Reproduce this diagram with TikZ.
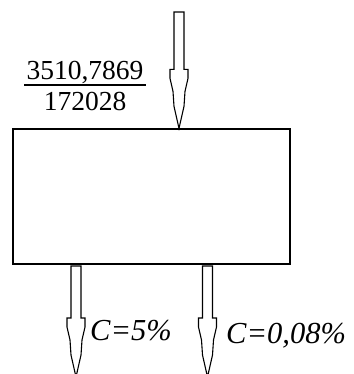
\documentclass[tikz,border=0pt]{standalone}
\usepackage{fontspec}
\setmainfont{Liberation Serif}
\usetikzlibrary{calc}
\tikzset{y=-1pt}
\tikzset{x=1pt}
\tikzstyle{unit}=[draw, line width=1.3pt, minimum width=277pt, minimum height=135pt, inner sep=0pt]
\tikzset{flow/.style={line width=1.1pt, line join=miter}}
\tikzset{label/.style={anchor=base west, inner sep=0pt, font=\fontsize{27.5}{30}\selectfont}}
\tikzset{conc/.style={label, font=\fontsize{30.5}{33}\selectfont\itshape}}
\newcommand{\flowarrow}[2]{
  \draw[flow] ($(#1)+(-5,0)$) -- ($(#2)+(-5,-59)$) -- ++(-4,0) -- ++(0,9)
    -- ($(#2)+(-6,-37)$) -- ($(#2)+(-5,-22)$) -- (#2)
    -- ($(#2)+(5,-22)$) -- ($(#2)+(6,-37)$) -- ($(#2)+(9,-50)$)
    -- ++(0,-9) -- ++(-4,0) -- ($(#1)+(5,0)$) -- cycle;
}

\begin{document}
\begin{tikzpicture}
  \useasboundingbox (0,0) rectangle (353,374);
  \draw (151.5,196.5) node[unit] (box) {};

  %% Streams
  \coordinate (in) at (179,12);
  \coordinate (inend) at (in |- box.north);
  \coordinate (out1) at (76,266);
  \coordinate (out1end) at (76,377);
  \coordinate (out2) at (207.5,266);
  \coordinate (out2end) at (207.5,377);
  \flowarrow{in}{inend}
  \flowarrow{out1}{out1end}
  \flowarrow{out2}{out2end}

  %% Labels
  \draw (85,80) node[label, anchor=base] (num) {3510,7869};
  \draw (85,111) node[label, anchor=base] (den) {172028};
  \draw[line width=1.1pt] ($(num.west |- 0,85)+(-2,0)$) -- ($(num.east |- 0,85)+(2,0)$);
  \draw (90,340) node[conc] (c1) {C=5\%};
  \draw (226,343) node[conc] (c2) {C=0,08\%};
\end{tikzpicture}
\end{document}
